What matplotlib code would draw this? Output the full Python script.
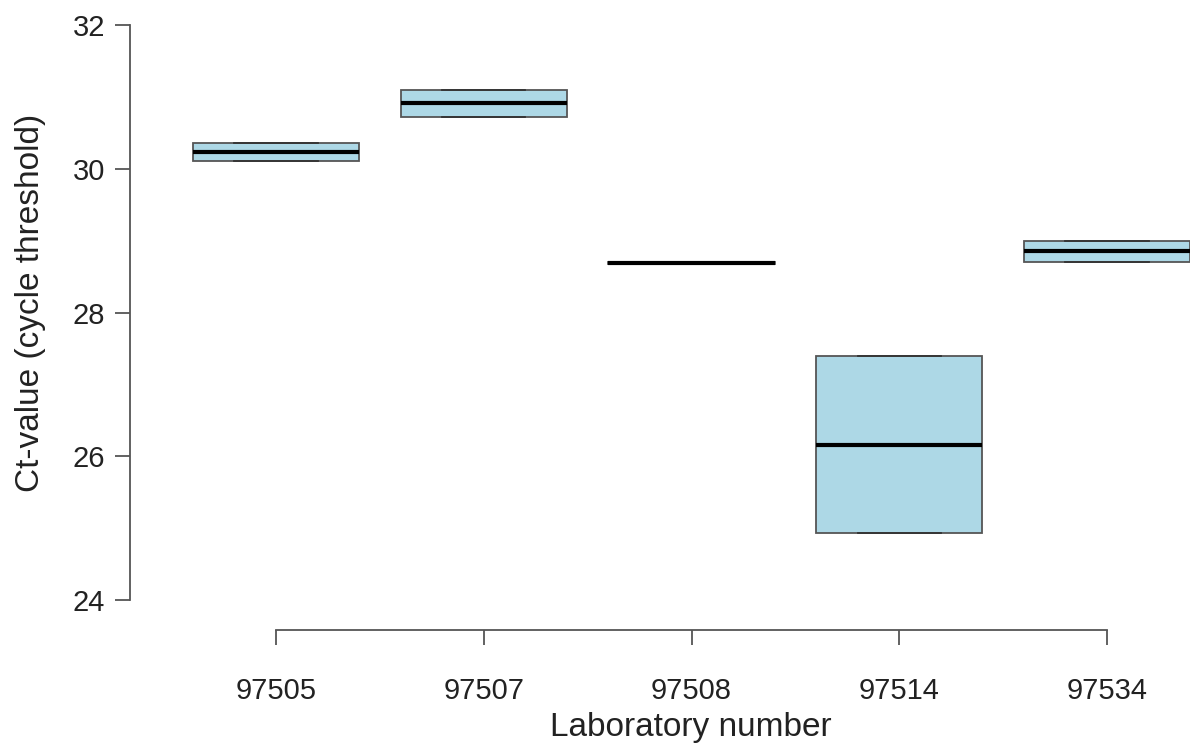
import numpy as np
import matplotlib
matplotlib.use("Agg")
import matplotlib.pyplot as plt

plt.rcParams['font.family'] = ['Liberation Sans', 'DejaVu Sans']

# Laboratories and their Ct-values (two replicates each)
labs = ['97505', '97507', '97508', '97514', '97534']
ct_97505 = [30.11, 30.36]
ct_97507 = [30.72, 31.10]
ct_97508 = [28.68, 28.70]
ct_97514 = [24.93, 27.39]
ct_97534 = [28.70, 29.00]
groups = [ct_97505, ct_97507, ct_97508, ct_97514, ct_97534]
y_ticks = [24, 26, 28, 30, 32]


# Tukey five-number summary, like R's boxplot
def fivenum(v):
    v = np.sort(np.asarray(v, dtype=float))
    n = len(v)
    n4 = np.floor((n + 3) / 2) / 2
    d = np.array([1, n4, (n + 1) / 2, n + 1 - n4, n]) - 1
    return 0.5 * (v[np.floor(d).astype(int)] + v[np.ceil(d).astype(int)])


stats = []
for lab, g in zip(labs, groups):
    lo, q1, med, q3, hi = fivenum(g)
    stats.append(dict(label=lab, whislo=lo, q1=q1, med=med, q3=q3, whishi=hi, fliers=[]))

fig = plt.figure(figsize=(11.9, 7.44), dpi=100)
ax = fig.add_axes([130 / 1190, 114 / 744, 1060 / 1190, 620 / 744])

ax.bxp(stats, positions=range(1, 6), widths=0.8, capwidths=0.4, patch_artist=True,
       boxprops=dict(facecolor='#ADD8E6', edgecolor='#555555', linewidth=1.3),
       medianprops=dict(color='black', linewidth=3),
       whiskerprops=dict(color='#333333', linewidth=1.2, linestyle='--'),
       capprops=dict(color='#333333', linewidth=1.3))

ax.set_xlim(0.2972, 5.3995)
ax.set_ylim(23.583, 32.209)
ax.set_yticks(y_ticks)
ax.set_yticklabels([str(t) for t in y_ticks])

for s in ['top', 'right']:
    ax.spines[s].set_visible(False)
ax.spines['left'].set_bounds(24, 32)
ax.spines['bottom'].set_bounds(1, 5)
for s in ['left', 'bottom']:
    ax.spines[s].set_color('#555555')
    ax.spines[s].set_linewidth(1.3)

ax.tick_params(axis='both', direction='out', length=11, width=1.3, color='#555555',
               labelsize=21, labelcolor='#222222')
ax.tick_params(axis='x', pad=23)
ax.tick_params(axis='y', pad=7)

ax.set_xlabel('Laboratory number', fontsize=24, color='#222222')
ax.set_ylabel('Ct-value (cycle threshold)', fontsize=24, color='#222222')
ax.xaxis.set_label_coords(0.529, -0.157)
ax.yaxis.set_label_coords(-0.0943, 0.527)
ax.xaxis.label.set_va('center')
ax.yaxis.label.set_va('center')

fig.savefig('out.png', dpi=100)
